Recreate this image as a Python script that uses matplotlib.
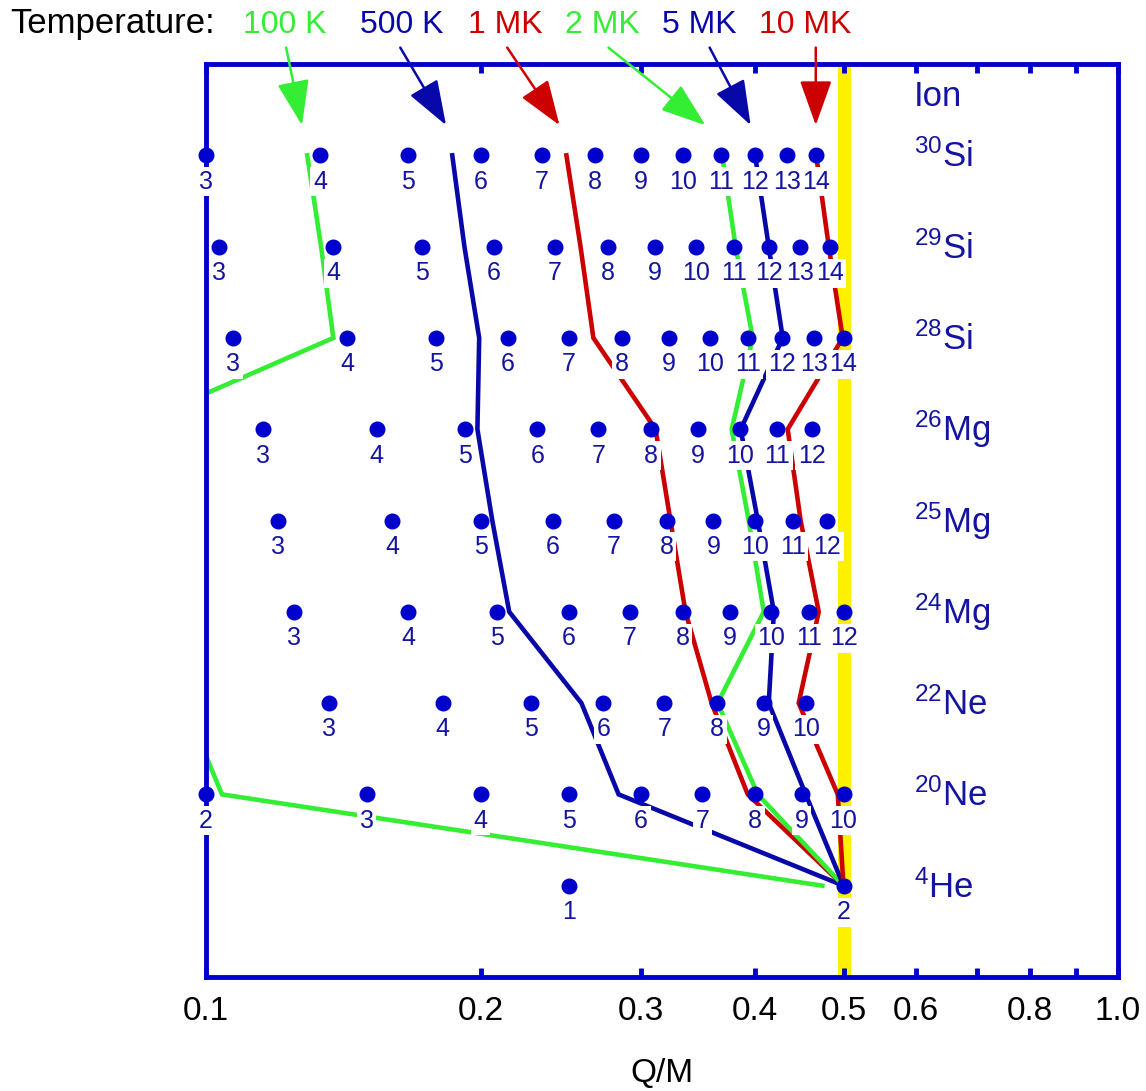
import numpy as np
import matplotlib
matplotlib.use('Agg')
import matplotlib.pyplot as plt
from matplotlib.ticker import FixedLocator, FixedFormatter, NullLocator

plt.rcParams['font.family'] = ['Liberation Sans', 'DejaVu Sans']
plt.rcParams['mathtext.fontset'] = 'custom'
plt.rcParams['mathtext.rm'] = 'Liberation Sans'
plt.rcParams['mathtext.it'] = 'Liberation Sans:italic'
plt.rcParams['mathtext.bf'] = 'Liberation Sans:bold'

# ions, bottom row first
ion_mass = [4, 20, 22, 24, 25, 26, 28, 29, 30]
ion_name = ['He', 'Ne', 'Ne', 'Mg', 'Mg', 'Mg', 'Si', 'Si', 'Si']
charge_min = [1, 2, 3, 3, 3, 3, 3, 3, 3]
charge_max = [2, 10, 10, 12, 12, 12, 14, 14, 14]

# mean Q/M of each ion for each temperature (rows as above)
temp_labels = ['100 K', '500 K', '1 MK', '2 MK', '5 MK', '10 MK']
qm_100K = [0.474, 0.1041, 0.0946, 0.085, 0.083, 0.0813, 0.1379, 0.1337, 0.1291]
qm_500K = [0.5, 0.2834, 0.2580, 0.2150, 0.2060, 0.1984, 0.1993, 0.1920, 0.1862]
qm_1MK = [0.5, 0.3926, 0.3584, 0.3355, 0.3230, 0.3111, 0.2659, 0.2574, 0.2484]
qm_2MK = [0.5, 0.4027, 0.3639, 0.4088, 0.3936, 0.3770, 0.3976, 0.3808, 0.3680]
qm_5MK = [0.5, 0.4545, 0.4140, 0.4194, 0.4027, 0.3857, 0.4289, 0.4140, 0.4000]
qm_10MK = [0.5, 0.4928, 0.4465, 0.4697, 0.4487, 0.4343, 0.4990, 0.4818, 0.4667]

# where the arrows point (Q/M at top row)
arrow_tip = [0.1274, 0.1833, 0.2441, 0.3528, 0.3955, 0.4662]
arrow_tail = [0.1224, 0.1633, 0.2139, 0.2762, 0.3566, 0.4662]
label_x = [0.1220, 0.1640, 0.2130, 0.2720, 0.3470, 0.4540]

xticks = [0.1, 0.2, 0.3, 0.4, 0.5, 0.6, 0.7, 0.8, 0.9, 1.0]
xticklabels = ['0.1', '0.2', '0.3', '0.4', '0.5', '0.6', '', '0.8', '', '1.0']

GREEN = '#33ee33'
RED = '#cc0000'
DOTBLUE = '#0000cc'
LINEBLUE = '#0808a8'
TXTBLUE = '#1414a0'
temp_colors = [GREEN, LINEBLUE, RED, GREEN, LINEBLUE, RED]
temp_series = [qm_100K, qm_500K, qm_1MK, qm_2MK, qm_5MK, qm_10MK]

fig = plt.figure(figsize=(11.46, 10.91), dpi=100)
ax = fig.add_axes([0.1798, 0.1045, 0.7958, 0.8368])
ax.set_xscale('log')
ax.set_xlim(0.1, 1.0)
ax.set_ylim(-1, 9)

rows = np.arange(len(ion_mass))

# yellow band at Q/M = 0.5
ax.axvspan(0.493, 0.509, color='#fff000', zorder=0, lw=0)

for qm, col in zip(temp_series, temp_colors):
    ax.plot(qm, rows, color=col, lw=3.3, zorder=2, solid_joinstyle='miter')

for r, (m, c0, c1) in enumerate(zip(ion_mass, charge_min, charge_max)):
    charges = np.arange(c0, c1 + 1)
    ax.plot(charges / m, np.full(len(charges), r), 'o', color=DOTBLUE,
            ms=10.5, zorder=3, clip_on=False)
    for c in charges:
        ax.annotate(str(c), (c / m, r), xytext=(0, -19), textcoords='offset points',
                    ha='center', va='center', fontsize=18, color=TXTBLUE, zorder=5,
                    bbox=dict(boxstyle='square,pad=0.1', fc='white', ec='none'),
                    annotation_clip=False)
    ax.text(0.597, r - 0.13, r'$^{%d}$%s' % (m, ion_name[r]), fontsize=25,
            color=TXTBLUE, ha='left', va='baseline', zorder=5)

ax.text(0.597, 8.54, 'Ion', fontsize=25, color=TXTBLUE, ha='left', va='baseline')

# temperature labels and arrows
fig.text(10 / 1146, 1 - 24 / 1091, 'Temperature:', fontsize=25, ha='left', va='center')
for lab, lx, tail, tip, col in zip(temp_labels, label_x, arrow_tail, arrow_tip, temp_colors):
    ax.text(lx, 9.43, lab, fontsize=23, color=col, ha='center', va='center', clip_on=False)
    ax.annotate('', xy=(tip, 8.33), xytext=(tail, 9.18),
                arrowprops=dict(arrowstyle='-|>,head_length=1.4,head_width=0.5',
                                mutation_scale=20, color=col, lw=1.8,
                                shrinkA=0, shrinkB=0),
                annotation_clip=False)

for s in ax.spines.values():
    s.set_color(DOTBLUE)
    s.set_linewidth(3.5)
    s.set_zorder(2.5)

ax.xaxis.set_major_locator(FixedLocator(xticks))
ax.xaxis.set_major_formatter(FixedFormatter(xticklabels))
ax.xaxis.set_minor_locator(NullLocator())
ax.tick_params(axis='x', which='major', direction='in', top=True, bottom=True,
               length=6.5, width=3.5, color=DOTBLUE, labelsize=24, pad=14)
ax.set_yticks([])
ax.set_xlabel('Q/M', fontsize=24, labelpad=22)

fig.savefig('out.png', dpi=100)
